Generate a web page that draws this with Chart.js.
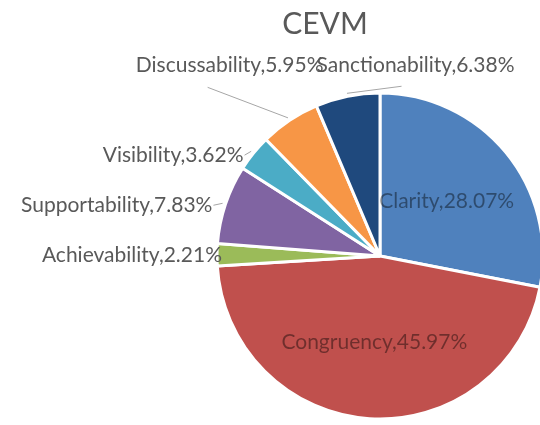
<!DOCTYPE html>
<html>
<head>
<meta charset="utf-8">
<script src="https://cdn.jsdelivr.net/npm/chart.js@4/dist/chart.umd.min.js"></script>
<style>
  html, body { margin: 0; padding: 0; background: #fff; overflow: hidden; width: 540px; height: 425px; }
  #wrap { position: absolute; left: 0; top: 0; width: 560px; height: 425px; }
</style>
</head>
<body>
<div id="wrap"><canvas id="c" width="560" height="425"></canvas></div>
<script>
// CEVM factor shares (percent)
const chartTitle = 'CEVM';
const categories = ['Clarity', 'Congruency', 'Achievability', 'Supportability', 'Visibility', 'Discussability', 'Sanctionability'];
const shares = [28.07, 45.97, 2.21, 7.83, 3.62, 5.95, 6.38];
const sliceColors = ['#4F81BD', '#C0504D', '#9BBB59', '#8064A2', '#4BACC6', '#F79646', '#1F497D'];

// Label placement per slice: 'inside' sits on the slice, 'outside' is offset
// from the slice's outer mid-point, with an optional leader line.
const labelPlacement = [
  { mode: 'inside' },
  { mode: 'inside' },
  { mode: 'outside', tx: 5,   ty: 0,   align: 'right' },
  { mode: 'outside', tx: -13, ty: 1,   align: 'right', lx: -12, ly: 1 },
  { mode: 'outside', tx: -10, ty: 2,   align: 'right', lx: -9,  ly: 2 },
  { mode: 'outside', tx: -60, ty: -55, align: 'center', lx: -82, ly: -33 },
  { mode: 'outside', tx: 68,  ty: -31, align: 'center', lx: 54,  ly: -10 }
];

const labelFont = '21px Lato, "Open Sans", sans-serif';

const sliceLabels = {
  id: 'sliceLabels',
  afterDatasetsDraw(chart) {
    const ctx = chart.ctx;
    const meta = chart.getDatasetMeta(0);
    ctx.save();
    ctx.font = labelFont;
    ctx.textBaseline = 'middle';
    meta.data.forEach((arc, i) => {
      const p = arc.getProps(['x', 'y', 'startAngle', 'endAngle', 'outerRadius'], true);
      const mid = (p.startAngle + p.endAngle) / 2;
      const text = categories[i] + ',' + shares[i].toFixed(2) + '%';
      const place = labelPlacement[i];
      if (place.mode === 'inside') {
        const rr = p.outerRadius * 0.53;
        ctx.fillStyle = 'rgba(0,0,0,0.42)';
        ctx.textAlign = 'center';
        ctx.fillText(text, p.x + Math.cos(mid) * rr, p.y + Math.sin(mid) * rr);
      } else {
        const ax = p.x + Math.cos(mid) * p.outerRadius;
        const ay = p.y + Math.sin(mid) * p.outerRadius;
        if (place.lx !== undefined) {
          const sx = p.x + Math.cos(mid) * (p.outerRadius + 3);
          const sy = p.y + Math.sin(mid) * (p.outerRadius + 3);
          ctx.strokeStyle = '#A6A6A6';
          ctx.lineWidth = 1;
          ctx.beginPath();
          ctx.moveTo(sx, sy);
          ctx.lineTo(ax + place.lx, ay + place.ly);
          ctx.stroke();
        }
        ctx.fillStyle = '#595959';
        ctx.textAlign = place.align;
        ctx.fillText(text, ax + place.tx, ay + place.ty);
      }
    });
    ctx.restore();
  }
};

const titleText = {
  id: 'titleText',
  afterDraw(chart) {
    const ctx = chart.ctx;
    ctx.save();
    ctx.font = '30px Lato, "Open Sans", sans-serif';
    ctx.fillStyle = '#595959';
    ctx.textAlign = 'center';
    ctx.textBaseline = 'middle';
    ctx.fillText(chartTitle, 325, 24);
    ctx.restore();
  }
};

new Chart(document.getElementById('c'), {
  type: 'pie',
  data: {
    labels: categories,
    datasets: [{
      data: shares,
      backgroundColor: sliceColors,
      borderColor: '#ffffff',
      borderWidth: 3
    }]
  },
  options: {
    responsive: false,
    animation: false,
    devicePixelRatio: 1,
    radius: 163,
    layout: { padding: { left: 217, right: 17, top: 93, bottom: 6 } },
    plugins: {
      legend: { display: false },
      title: { display: false },
      tooltip: { enabled: false }
    }
  },
  plugins: [sliceLabels, titleText]
});
</script>
</body>
</html>
